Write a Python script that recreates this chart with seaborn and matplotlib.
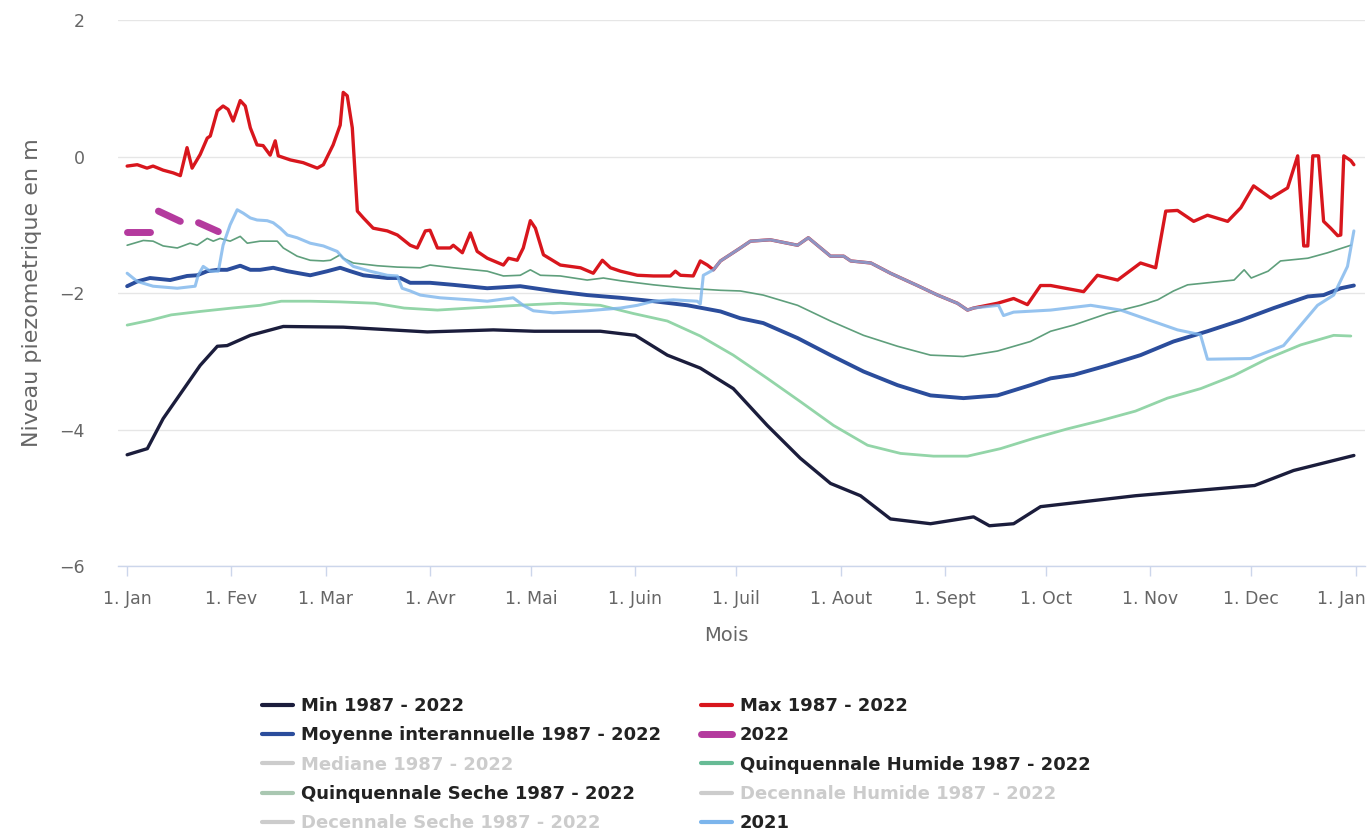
import numpy as np
import pandas as pd
import matplotlib
matplotlib.use("Agg")
import matplotlib.pyplot as plt
import matplotlib.transforms as mtransforms
from matplotlib.lines import Line2D
import seaborn as sns

# ---------------- data (day of year, level in m) ----------------
month_days = [0, 31, 59, 90, 120, 151, 181, 212, 243, 273, 304, 334, 365]
month_labels = ["1. Jan", "1. Fev", "1. Mar", "1. Avr", "1. Mai", "1. Juin", "1. Juil",
                "1. Aout", "1. Sept", "1. Oct", "1. Nov", "1. Dec", "1. Jan"]

min_days = [0, 6, 10.7, 21.7, 26.8, 29.7, 36.6, 46.4, 64.2, 89.2, 108.8, 121, 140.6, 151,
            160.5, 170.3, 180.1, 190.2, 200, 209, 217.9, 226.8, 238.7, 251.5, 256.2, 263.4,
            271.4, 299.6, 335, 346.6, 364.5]
min_vals = [-4.37, -4.28, -3.84, -3.06, -2.78, -2.77, -2.62, -2.49, -2.50, -2.57, -2.54, -2.56,
            -2.56, -2.62, -2.91, -3.10, -3.40, -3.94, -4.42, -4.79, -4.97, -5.31, -5.38, -5.28,
            -5.41, -5.38, -5.13, -4.97, -4.82, -4.60, -4.38]

max_early_days = [0, 3, 5.9, 7.7, 10.7, 13.7, 15.8, 17.8, 19.3, 21.7, 23.8, 24.7, 26.8, 28.5, 30,
                  31.5, 33.6, 35.1, 36.6, 38.6, 40.4, 42.5, 44, 44.9, 48.5, 52.3, 56.5, 58.3,
                  61.2, 63.3, 64.2, 65.4, 66.9, 68.4, 70.2, 73.1, 77.3, 80.3, 84.1, 86.2, 88.6,
                  90, 92.2, 96, 96.9, 99.6, 102, 104, 107, 111.8, 113.3, 115.9, 117.7, 119.8,
                  121.3, 123.7, 128.7, 134.7, 138.5, 141.2, 143.6, 146.6, 151.6, 156.4, 161.4,
                  162.9, 164.4, 168.2, 170.3, 172.4]
max_early_vals = [-0.14, -0.12, -0.17, -0.14, -0.20, -0.24, -0.28, 0.13, -0.17, 0.03, 0.27, 0.30,
                  0.67, 0.74, 0.69, 0.52, 0.82, 0.74, 0.42, 0.17, 0.16, 0.02, 0.23, 0.01, -0.05,
                  -0.09, -0.17, -0.12, 0.17, 0.46, 0.94, 0.89, 0.42, -0.80, -0.90, -1.05, -1.09,
                  -1.15, -1.30, -1.34, -1.09, -1.08, -1.34, -1.34, -1.30, -1.41, -1.12, -1.39,
                  -1.49, -1.59, -1.49, -1.52, -1.34, -0.94, -1.05, -1.44, -1.59, -1.63, -1.71,
                  -1.52, -1.63, -1.68, -1.74, -1.75, -1.75, -1.68, -1.74, -1.75, -1.53, -1.59]

# period where the 2021 year is the maximum
shared_days = [174.2, 176.3, 182.2, 185.2, 191.1, 199.2, 202.4, 209, 212.9, 215, 221, 226.8,
               234.8, 240.8, 246.7, 249.7, 251.5]
shared_vals = [-1.66, -1.53, -1.34, -1.24, -1.22, -1.30, -1.19, -1.46, -1.46, -1.53, -1.56, -1.71,
               -1.89, -2.03, -2.15, -2.25, -2.22]

max_late_days = [258.6, 263.4, 267.5, 271.4, 274.4, 284.2, 288.3, 294.3, 301.1, 305.6, 308.6,
                 312.1, 316.9, 321, 327, 330.9, 334.7, 339.8, 344.8, 347.8, 349.6, 350.8, 352.3,
                 354, 355.5, 357.6, 359.7, 360.6, 361.5, 363.6, 364.5]
max_late_vals = [-2.15, -2.08, -2.17, -1.89, -1.89, -1.98, -1.74, -1.81, -1.56, -1.63, -0.80,
                 -0.79, -0.95, -0.86, -0.95, -0.75, -0.43, -0.61, -0.46, 0.01, -1.31, -1.31, 0.01,
                 0.01, -0.95, -1.05, -1.16, -1.15, 0.01, -0.06, -0.12]

y2021_early_days = [0, 3, 7.7, 14.9, 20.2, 21.1, 22.6, 24.7, 27.1, 28.5, 30.6, 32.7, 34.5, 36.6,
                    38.6, 41.6, 43.4, 45.5, 47.6, 50.5, 54.4, 58.3, 62.4, 64.2, 67.2, 72.2, 77.3,
                    80.3, 81.7, 84.1, 87.1, 93, 102, 107, 114.7, 117.7, 120.7, 126.6, 136.7,
                    146.6, 151.6, 156.4, 162.3, 169.4, 170.3, 171.2]
y2021_early_vals = [-1.71, -1.83, -1.90, -1.93, -1.90, -1.74, -1.61, -1.68, -1.68, -1.30, -1.00,
                    -0.78, -0.83, -0.90, -0.93, -0.94, -0.97, -1.05, -1.15, -1.19, -1.27, -1.31,
                    -1.39, -1.49, -1.61, -1.68, -1.74, -1.75, -1.93, -1.97, -2.03, -2.07, -2.10,
                    -2.12, -2.07, -2.18, -2.26, -2.29, -2.26, -2.22, -2.18, -2.12, -2.10, -2.12,
                    -2.16, -1.74]
y2021_late_days = [258.9, 260.4, 263.4, 274.4, 286.3, 295.2, 312.1, 318.9, 321, 333.8, 343.6,
                   353.7, 358.5, 362.6, 364.5]
y2021_late_vals = [-2.18, -2.33, -2.28, -2.25, -2.18, -2.25, -2.54, -2.61, -2.97, -2.96, -2.77,
                   -2.18, -2.03, -1.61, -1.09]

moy_days = [0, 3, 6.8, 12.8, 17.8, 20.8, 23.8, 26.8, 29.7, 33.6, 36.6, 39.5, 43.4, 47.6, 54.4,
            59.5, 63.3, 66.3, 70.2, 77.3, 81.2, 84.1, 90, 96.9, 107, 116.8, 126.6, 136.7, 146.6,
            156.4, 166.5, 176.3, 182.2, 189, 199.2, 209, 218.8, 228.9, 238.7, 248.5, 258.6,
            268.4, 274.4, 281.2, 291.3, 301.1, 310.9, 321, 330.9, 340.7, 350.8, 355.5, 360.6,
            364.5]
moy_vals = [-1.90, -1.83, -1.78, -1.81, -1.75, -1.74, -1.68, -1.66, -1.66, -1.60, -1.66, -1.66,
            -1.63, -1.68, -1.74, -1.68, -1.63, -1.68, -1.74, -1.78, -1.78, -1.85, -1.85, -1.88,
            -1.93, -1.90, -1.97, -2.03, -2.07, -2.12, -2.18, -2.27, -2.37, -2.44, -2.66, -2.91,
            -3.15, -3.35, -3.50, -3.54, -3.50, -3.35, -3.25, -3.20, -3.06, -2.91, -2.71, -2.56,
            -2.40, -2.22, -2.05, -2.03, -1.93, -1.89]

y2022_seg = [1, 1, 2, 2, 3, 3]
y2022_days = [0, 6.9, 9.3, 15.8, 21.2, 27.1]
y2022_vals = [-1.10, -1.10, -0.80, -0.95, -0.97, -1.10]

qh_days = [0, 4.8, 7.7, 10.7, 14.9, 18.7, 20.8, 23.8, 25.6, 27.6, 30.6, 33.6, 35.7, 39.5, 44.6,
           46.4, 50.5, 54.4, 58.3, 60.4, 63.3, 64.2, 67.2, 74.3, 80.3, 87.1, 90, 96.9, 107,
           111.8, 116.8, 119.8, 122.8, 128.7, 136.7, 141.5, 146.6, 156.4, 166.5, 176.3, 182.2,
           189, 199.2, 209, 218.8, 228.9, 238.7, 248.5, 258.6, 268.4, 274.4, 281.2, 291.3,
           301.1, 306.2, 310.9, 315.1, 321, 328.9, 331.9, 334, 339, 342.7, 350.8, 356.7, 363.6]
qh_vals = [-1.30, -1.23, -1.24, -1.31, -1.34, -1.27, -1.30, -1.20, -1.24, -1.20, -1.24, -1.17,
           -1.27, -1.24, -1.24, -1.34, -1.46, -1.52, -1.53, -1.52, -1.44, -1.49, -1.56, -1.60,
           -1.62, -1.63, -1.59, -1.63, -1.68, -1.75, -1.74, -1.66, -1.74, -1.75, -1.81, -1.78,
           -1.82, -1.88, -1.93, -1.96, -1.97, -2.03, -2.18, -2.41, -2.62, -2.78, -2.91, -2.93,
           -2.85, -2.71, -2.56, -2.47, -2.30, -2.18, -2.10, -1.97, -1.88, -1.85, -1.81, -1.66,
           -1.78, -1.68, -1.53, -1.49, -1.41, -1.30]

qs_days = [0, 6.8, 13.1, 21.7, 31.2, 39.5, 45.8, 54.4, 63.3, 73.7, 82.3, 92.2, 102, 116.2,
           128.7, 140.6, 150.4, 160.5, 170.3, 180.1, 190.2, 200, 209.9, 220, 229.8, 239.6,
           249.7, 259.5, 269.3, 279.4, 289.2, 299.6, 309.1, 319, 328.8, 338.9, 348.7, 358.5,
           363.6]
qs_vals = [-2.47, -2.40, -2.32, -2.27, -2.22, -2.18, -2.12, -2.12, -2.13, -2.15, -2.22, -2.25,
           -2.22, -2.18, -2.15, -2.18, -2.30, -2.41, -2.63, -2.91, -3.25, -3.59, -3.94, -4.23,
           -4.35, -4.39, -4.39, -4.28, -4.13, -3.99, -3.87, -3.73, -3.54, -3.40, -3.21, -2.96,
           -2.76, -2.62, -2.63]

legend_labels = ["Min 1987 - 2022", "Moyenne interannuelle 1987 - 2022", "Mediane 1987 - 2022",
                 "Quinquennale Seche 1987 - 2022", "Decennale Seche 1987 - 2022",
                 "Max 1987 - 2022", "2022", "Quinquennale Humide 1987 - 2022",
                 "Decennale Humide 1987 - 2022", "2021"]

# ---------------- build tables ----------------
df_min = pd.DataFrame({"day": min_days, "val": min_vals})
df_max = pd.DataFrame({"day": max_early_days + shared_days + max_late_days,
                       "val": max_early_vals + shared_vals + max_late_vals})
df_moy = pd.DataFrame({"day": moy_days, "val": moy_vals})
df_22 = pd.DataFrame({"day": y2022_days, "val": y2022_vals, "seg": y2022_seg})
df_qh = pd.DataFrame({"day": qh_days, "val": qh_vals})
df_qs = pd.DataFrame({"day": qs_days, "val": qs_vals})
df_21 = pd.DataFrame({"day": y2021_early_days + shared_days + y2021_late_days,
                      "val": y2021_early_vals + shared_vals + y2021_late_vals})

c_min = "#1b1d3c"
c_max = "#d8161d"
c_moy = "#2b4d9c"
c_22 = "#b43a9e"
c_qh = "#5f9f7c"
c_qs = "#93d5a8"
c_21 = "#7cb5ec"
c_hidden = "#cccccc"

# ---------------- figure ----------------
sns.set_theme(style="white")
plt.rcParams["font.family"] = ["DejaVu Sans"]
fig = plt.figure(figsize=(13.68, 8.34), dpi=100)
ax = fig.add_axes([0.0863, 0.3213, 0.9115, 0.6547])

kw = dict(x="day", y="val", ax=ax, estimator=None, sort=False, legend=False)
sns.lineplot(data=df_min, color=c_min, linewidth=2.4, **kw)
sns.lineplot(data=df_max, color=c_max, linewidth=2.4, **kw)
sns.lineplot(data=df_moy, color=c_moy, linewidth=2.8, **kw)
sns.lineplot(data=df_22, units="seg", color=c_22, linewidth=5, **kw)
sns.lineplot(data=df_qh, color=c_qh, linewidth=1.2, **kw)
sns.lineplot(data=df_qs, color=c_qs, linewidth=2.0, **kw)
sns.lineplot(data=df_21, color=c_21, linewidth=2.2, alpha=0.8, **kw)

ax.set_xlim(-2.7, 367.8)
ax.set_ylim(-6, 2)
ax.set_yticks([2, 0, -2, -4, -6])
ax.set_yticklabels(["2", "0", "\u22122", "\u22124", "\u22126"])
ax.set_xticks(month_days)
ax.set_xticklabels(month_labels)

ax.grid(axis="y", color="#e6e6e6", linewidth=1)
ax.grid(axis="x", visible=False)
for s in ["top", "right", "left"]:
    ax.spines[s].set_visible(False)
ax.spines["bottom"].set_color("#ccd6eb")
ax.spines["bottom"].set_linewidth(1)
ax.tick_params(axis="x", length=7, color="#ccd6eb", width=1, pad=10,
               labelsize=12.5, labelcolor="#666666", bottom=True)
ax.tick_params(axis="y", length=0, pad=24, labelsize=12.5, labelcolor="#666666")

# keep the last month label inside the figure (shifted left like the original)
last = ax.get_xticklabels()[-1]
last.set_horizontalalignment("right")
last.set_transform(last.get_transform() +
                   mtransforms.ScaledTranslation(10 / 100, 0, fig.dpi_scale_trans))

ax.set_xlabel("Mois", fontsize=14, color="#666666", labelpad=13, x=0.4876)
ax.set_ylabel("Niveau piezometrique en m", fontsize=16, color="#666666", labelpad=12)

# ---------------- legend ----------------
visible = {"Min 1987 - 2022": c_min, "Moyenne interannuelle 1987 - 2022": c_moy,
           "Quinquennale Seche 1987 - 2022": "#a9c7b1", "Max 1987 - 2022": c_max,
           "2022": c_22, "Quinquennale Humide 1987 - 2022": "#67bb95", "2021": c_21}
handles = []
for lab in legend_labels:
    col = visible.get(lab, c_hidden)
    lw = 5 if lab == "2022" else 3
    handles.append(Line2D([], [], color=col, linewidth=lw))
leg = fig.legend(handles, legend_labels, loc="upper left",
                 bbox_to_anchor=(246 / 1368, 1 - 681 / 834), ncol=2, frameon=False,
                 handlelength=1.7, handletextpad=0.45, columnspacing=2.2,
                 labelspacing=0.62,
                 prop={"family": ["DejaVu Sans"], "weight": "bold", "size": 13})
for txt, lab in zip(leg.get_texts(), legend_labels):
    txt.set_color("#222222" if lab in visible else c_hidden)

fig.savefig("out.png", dpi=100)
